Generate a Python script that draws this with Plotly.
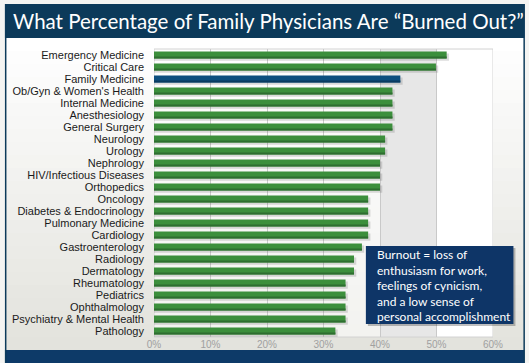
import plotly.graph_objects as go

categories = ["Emergency Medicine", "Critical Care", "Family Medicine", "Ob/Gyn & Women's Health",
              "Internal Medicine", "Anesthesiology", "General Surgery", "Neurology", "Urology",
              "Nephrology", "HIV/Infectious Diseases", "Orthopedics", "Oncology",
              "Diabetes & Endocrinology", "Pulmonary Medicine", "Cardiology", "Gastroenterology",
              "Radiology", "Dermatology", "Rheumatology", "Pediatrics", "Ophthalmology",
              "Psychiatry & Mental Health", "Pathology"]
values = [51.8, 49.9, 43.6, 42.2, 42.2, 42.2, 42.2, 40.9, 40.9, 40.0, 40.0, 40.0,
          37.9, 37.9, 37.9, 37.9, 36.8, 35.4, 35.4, 33.9, 33.9, 33.9, 33.9, 32.1]
highlight = "Family Medicine"
tick_vals = [0, 10, 20, 30, 40, 50, 60]
tick_text = ["0%", "10%", "20%", "30%", "40%", "50%", "60%"]
title = "What Percentage of Family Physicians Are “Burned Out?”"
note = "Burnout = loss of<br>enthusiasm for work,<br>feelings of cynicism,<br>and a low sense of<br>personal accomplishment"

W, H = 529, 363
L, R, T, B = 153.5, 35.5, 49, 26
pw, ph = W - L - R, H - T - B

def px(x):
    return (x - L) / pw

def py(y):
    return (H - B - y) / ph

main_cols = ["#0d4f7f" if c == highlight else "#3c8f3c" for c in categories]
dark_cols = ["#0a3b60" if c == highlight else "#2e6e30" for c in categories]

fig = go.Figure()
bw = 0.6
fig.add_trace(go.Bar(y=categories, x=[v + 0.4 for v in values], orientation="h",
                     width=bw, offset=-bw / 2 + 0.17,
                     marker=dict(color="rgba(60,60,60,0.18)", line=dict(width=0)),
                     hoverinfo="skip", showlegend=False))
fig.add_trace(go.Bar(y=categories, x=values, orientation="h", width=bw, offset=-bw / 2,
                     marker=dict(color=main_cols, line=dict(width=0)), showlegend=False))
fig.add_trace(go.Bar(y=categories, x=values, orientation="h", width=0.18, offset=bw / 2 - 0.18,
                     marker=dict(color=dark_cols, line=dict(width=0)),
                     hoverinfo="skip", showlegend=False))

shapes = []
# panel gradient background
n = 24
top_y, bot_y = 38, 350
for i in range(n):
    y0 = top_y + (bot_y - top_y) * i / n
    y1 = top_y + (bot_y - top_y) * (i + 1) / n
    t = i / (n - 1)
    r = int(255 - t * 28)
    g = int(255 - t * 28)
    b = int(255 - t * 34)
    shapes.append(dict(type="rect", xref="paper", yref="paper", layer="below",
                       x0=px(4), x1=px(525), y0=py(y1 + 0.5), y1=py(y0),
                       fillcolor=f"rgb({r},{g},{b})", line=dict(width=0)))
# plot bands
shapes.append(dict(type="rect", xref="x", yref="paper", layer="below", x0=0, x1=40, y0=0, y1=1,
                   fillcolor="rgba(255,255,255,0.55)", line=dict(width=0)))
shapes.append(dict(type="rect", xref="x", yref="paper", layer="below", x0=40, x1=50, y0=0, y1=1,
                   fillcolor="#e7e7e7", line=dict(width=0)))
shapes.append(dict(type="rect", xref="x", yref="paper", layer="below", x0=50, x1=60, y0=0, y1=1,
                   fillcolor="#ffffff", line=dict(width=0)))
shapes.append(dict(type="rect", xref="x", yref="paper", layer="below", x0=0, x1=60, y0=0, y1=1,
                   fillcolor="rgba(0,0,0,0)", line=dict(width=1, color="#d2d2d2")))
# title bar
shapes.append(dict(type="rect", xref="paper", yref="paper", layer="below",
                   x0=px(4), x1=px(525), y0=py(38), y1=py(4),
                   fillcolor="#0c3a5a", line=dict(width=0)))
# bottom bar
shapes.append(dict(type="rect", xref="paper", yref="paper", layer="below",
                   x0=px(4), x1=px(525), y0=py(363), y1=py(350),
                   fillcolor="#0d3a68", line=dict(width=0)))
# side borders
for xx in (4, 524):
    shapes.append(dict(type="rect", xref="paper", yref="paper", layer="below",
                       x0=px(xx), x1=px(xx + 1.5), y0=py(363), y1=py(4),
                       fillcolor="#0c3a5a", line=dict(width=0)))
# note box
shapes.append(dict(type="rect", xref="paper", yref="paper", layer="above",
                   x0=px(368), x1=px(516), y0=py(326), y1=py(248),
                   fillcolor="rgba(0,0,0,0.25)", line=dict(width=0)))
shapes.append(dict(type="rect", xref="paper", yref="paper", layer="above",
                   x0=px(366), x1=px(514), y0=py(324), y1=py(246),
                   fillcolor="#0e3567", line=dict(width=0)))

annotations = [
    dict(text=title, xref="paper", yref="paper", x=px(10), y=py(21), xanchor="left",
         yanchor="middle", showarrow=False,
         font=dict(family="Lato", size=20.5, color="#ffffff")),
    dict(text=note, xref="paper", yref="paper", x=px(375), y=py(285), xanchor="left",
         yanchor="middle", align="left", showarrow=False,
         font=dict(family="Lato", size=12, color="#ffffff")),
]

fig.update_layout(
    width=W, height=H,
    margin=dict(l=L, r=R, t=T, b=B, pad=0),
    paper_bgcolor="#f4f4f2",
    plot_bgcolor="rgba(0,0,0,0)",
    barmode="overlay",
    shapes=shapes,
    annotations=annotations,
    xaxis=dict(range=[0, 60], tickvals=tick_vals, ticktext=tick_text, showgrid=True,
               gridcolor="#c9c9c9", gridwidth=1, zeroline=False, showline=False,
               tickfont=dict(family="Liberation Sans", size=10, color="#a0a0a0"), ticklen=0,
               fixedrange=True),
    yaxis=dict(autorange="reversed", showgrid=False, zeroline=False, showline=False,
               tickmode="array", tickvals=categories, ticktext=categories,
               tickfont=dict(family="Liberation Sans", size=11, color="#1a1a1a"), ticklen=0,
               ticks="", ticklabelstandoff=9, fixedrange=True, automargin=False),
)

fig.write_html("out.html", config={"displayModeBar": False, "staticPlot": True},
               post_script="document.body.style.margin='0';document.body.style.padding='0';"
                           "document.body.style.overflow='hidden';")
